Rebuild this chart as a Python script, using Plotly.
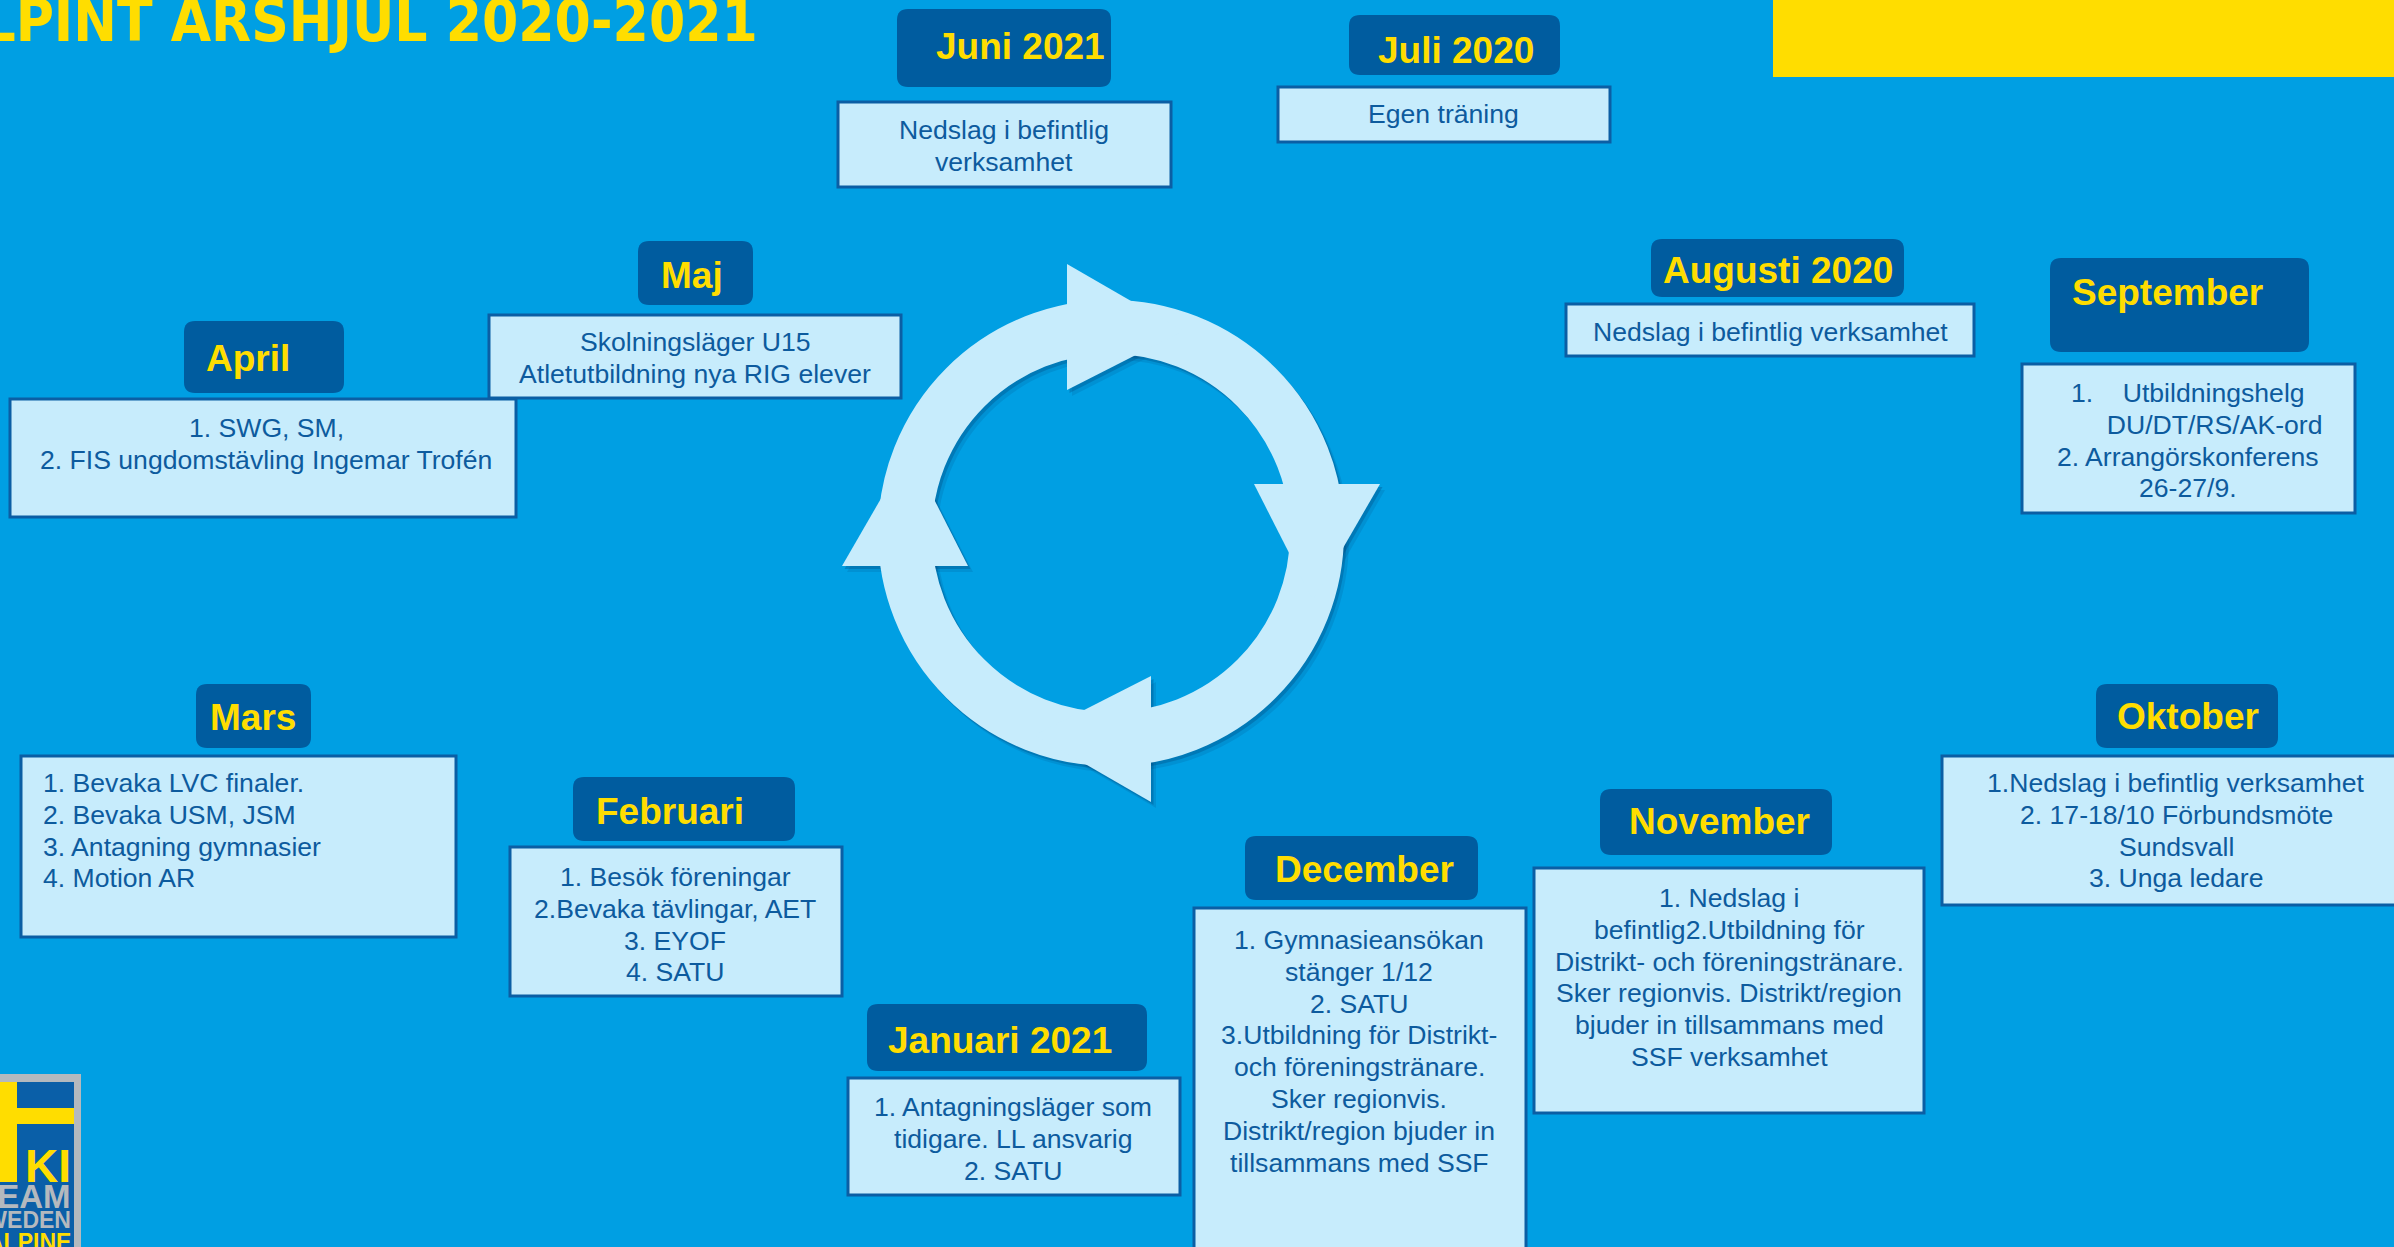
import numpy as np
import plotly.graph_objects as go

W, H = 2394, 1247

# ---------------- data ----------------
title = "ALPINT ÅRSHJUL 2020-2021"
months = ["Juni 2021", "Juli 2020", "Augusti 2020", "September", "Oktober", "November",
          "December", "Januari 2021", "Februari", "Mars", "April", "Maj"]
NB = "\u00a0"
activities = [
    ["Nedslag i befintlig", "verksamhet"],
    ["Egen träning"],
    ["Nedslag i befintlig verksamhet"],
    ["1." + NB * 4 + "Utbildningshelg", NB * 7 + "DU/DT/RS/AK-ord", "2. Arrangörskonferens", "26-27/9."],
    ["1.Nedslag i befintlig verksamhet", "2. 17-18/10 Förbundsmöte", "Sundsvall", "3. Unga ledare"],
    ["1. Nedslag i", "befintlig2.Utbildning för", "Distrikt- och föreningstränare.",
     "Sker regionvis. Distrikt/region", "bjuder in tillsammans med", "SSF verksamhet"],
    ["1. Gymnasieansökan", "stänger 1/12", "2. SATU", "3.Utbildning för Distrikt-",
     "och föreningstränare.", "Sker regionvis.", "Distrikt/region bjuder in", "tillsammans med SSF"],
    ["1. Antagningsläger som", "tidigare. LL ansvarig", "2. SATU"],
    ["1. Besök föreningar", "2.Bevaka tävlingar, AET", "3. EYOF", "4. SATU"],
    ["1. Bevaka LVC finaler.", "2. Bevaka USM, JSM", "3. Antagning gymnasier", "4. Motion AR"],
    ["1. SWG, SM,", "2. FIS ungdomstävling Ingemar Trofén"],
    ["Skolningsläger U15", "Atletutbildning nya RIG elever"],
]
logo_words = ["KI", "TEAM", "SWEDEN", "ALPINE"]

# ---------------- layout (pixel geometry) ----------------
label_boxes = [(897, 9, 1111, 87), (1349, 15, 1560, 75), (1651, 239, 1904, 297),
               (2050, 258, 2309, 352), (2096, 684, 2278, 748), (1600, 789, 1832, 855),
               (1245, 836, 1478, 900), (867, 1004, 1147, 1071), (573, 777, 795, 841),
               (196, 684, 311, 748), (184, 321, 344, 393), (638, 241, 753, 305)]
label_text_xy = [(1020, 46), (1456, 50), (1778, 270), (2167, 292), (2188, 716), (1719, 821),
                 (1364, 869), (1000, 1040), (670, 811), (253, 717), (248, 358), (692, 275)]
content_boxes = [(838, 102, 1171, 187), (1278, 87, 1610, 142), (1566, 304, 1974, 356),
                 (2022, 364, 2355, 513), (1942, 756, 2412, 905), (1534, 868, 1924, 1113),
                 (1194, 908, 1526, 1262), (848, 1078, 1180, 1195), (510, 847, 842, 996),
                 (21, 756, 456, 937), (10, 399, 516, 517), (489, 315, 901, 398)]
content_text_x = [1004, 1443, 1770, 2188, 2176, 1729, 1359, 1013, 675, 41, 266, 695]
content_first_y = [130, 114, 332, 393, 783, 898, 940, 1107, 877, 783, 428, 342]
content_align = ["center"] * 9 + ["left", "center", "center"]
LINE_STEP = 31.8
logo_text_y = [1166, 1196, 1220, 1242]
logo_text_size = [46, 33, 23, 23]

# ---------------- styles ----------------
BG = "#009FE3"
DARK = "#005C9F"
LIGHT = "#C7ECFC"
BORDER = "#0B5EA4"
TXT = "#0D5B9E"
YEL = "#FFDD00"
GRAY = "#B4B9BE"
LOGO_BLUE = "#0A5FA8"
FONT = "Liberation Sans, Arial, sans-serif"
logo_text_color = [YEL, GRAY, GRAY, YEL]


def rrect(x0, y0, x1, y1, r):
    return (f"M{x0+r},{y0} L{x1-r},{y0} Q{x1},{y0} {x1},{y0+r} L{x1},{y1-r} "
            f"Q{x1},{y1} {x1-r},{y1} L{x0+r},{y1} Q{x0},{y1} {x0},{y1-r} "
            f"L{x0},{y0+r} Q{x0},{y0} {x0+r},{y0} Z")


shapes = []
annotations = []

# yellow banner top right
shapes.append(dict(type="rect", xref="x", yref="y", x0=1773, y0=-5, x1=W + 5, y1=77,
                   fillcolor=YEL, line=dict(width=0), layer="above"))

# ---------------- cycle ring with arrows ----------------
cx, cy, rmid, ring_w = 1111, 533, 206, 54
half_w, tip_len = 63, 116
base_back = [44, 49, 40, 33]   # top, right, bottom, left arrowheads


def arrow_path(k, dx=0, dy=0):
    # template for top arrowhead (moving right), rotated k*90deg clockwise on screen
    b = base_back[k]
    pts = [(-b, -rmid - half_w), (-b, -rmid + half_w), (-b + tip_len, -rmid + 4)]
    out = []
    for (px, py) in pts:
        for _ in range(k):
            px, py = -py, px
        out.append((cx + px + dx, cy + py + dy))
    return "M" + " L".join(f"{x:.1f},{y:.1f}" for x, y in out) + " Z"


for (dx, dy, col) in [(5, 6, "rgba(0,50,100,0.12)"), (2.5, 3, "rgba(0,60,110,0.28)")]:
    shapes.append(dict(type="circle", xref="x", yref="y", x0=cx - rmid + dx, x1=cx + rmid + dx,
                       y0=cy - rmid + dy, y1=cy + rmid + dy, line=dict(color=col, width=ring_w),
                       fillcolor="rgba(0,0,0,0)", layer="above"))
    for k in range(4):
        shapes.append(dict(type="path", xref="x", yref="y", path=arrow_path(k, dx, dy),
                           fillcolor=col, line=dict(width=0), layer="above"))

shapes.append(dict(type="circle", xref="x", yref="y", x0=cx - rmid, x1=cx + rmid,
                   y0=cy - rmid, y1=cy + rmid, line=dict(color=LIGHT, width=ring_w),
                   fillcolor="rgba(0,0,0,0)", layer="above"))
for k in range(4):
    shapes.append(dict(type="path", xref="x", yref="y", path=arrow_path(k),
                       fillcolor=LIGHT, line=dict(width=0), layer="above"))

# ---------------- month boxes ----------------
for i, m in enumerate(months):
    x0, y0, x1, y1 = label_boxes[i]
    shapes.append(dict(type="path", xref="x", yref="y", path=rrect(x0, y0, x1, y1, 11),
                       fillcolor=DARK, line=dict(width=0), layer="above"))
    tx, ty = label_text_xy[i]
    annotations.append(dict(x=tx, y=ty, xref="x", yref="y", text=f"<b>{m}</b>", showarrow=False,
                            xanchor="center", yanchor="middle",
                            font=dict(family=FONT, size=37, color=YEL)))
    bx0, by0, bx1, by1 = content_boxes[i]
    shapes.append(dict(type="rect", xref="x", yref="y", x0=bx0, y0=by0, x1=bx1, y1=by1,
                       fillcolor=LIGHT, line=dict(color=BORDER, width=3), layer="above"))
    for j, line in enumerate(activities[i]):
        annotations.append(dict(x=content_text_x[i], y=content_first_y[i] + j * LINE_STEP,
                                xref="x", yref="y", text=line, showarrow=False,
                                xanchor=content_align[i], yanchor="middle", align=content_align[i],
                                font=dict(family=FONT, size=26.6, color=TXT)))

# ---------------- title ----------------
annotations.append(dict(x=760, y=57, xref="x", yref="y", text=f"<b>{title}</b>", showarrow=False,
                        xanchor="right", yanchor="bottom",
                        font=dict(family="Liberation Sans Narrow, DejaVu Sans Condensed, Arial Narrow, sans-serif",
                                  size=58, color=YEL)))

# ---------------- logo bottom-left ----------------
shapes += [
    dict(type="rect", xref="x", yref="y", x0=-10, y0=1074, x1=81, y1=H + 10,
         fillcolor=GRAY, line=dict(width=0), layer="above"),
    dict(type="rect", xref="x", yref="y", x0=-10, y0=1082, x1=74, y1=H + 10,
         fillcolor=LOGO_BLUE, line=dict(width=0), layer="above"),
    dict(type="rect", xref="x", yref="y", x0=-10, y0=1082, x1=17, y1=1182,
         fillcolor=YEL, line=dict(width=0), layer="above"),
    dict(type="rect", xref="x", yref="y", x0=-10, y0=1108, x1=74, y1=1124,
         fillcolor=YEL, line=dict(width=0), layer="above"),
]
for txt, yy, sz, col in zip(logo_words, logo_text_y, logo_text_size, logo_text_color):
    annotations.append(dict(x=73, y=yy, xref="x", yref="y", text=f"<b>{txt}</b>", showarrow=False,
                            xanchor="right", yanchor="middle",
                            font=dict(family=FONT, size=sz, color=col)))

fig = go.Figure()
fig.update_layout(
    width=W, height=H, autosize=False,
    margin=dict(l=0, r=0, t=0, b=0, pad=0),
    paper_bgcolor=BG, plot_bgcolor=BG,
    xaxis=dict(range=[0, W], visible=False, fixedrange=True),
    yaxis=dict(range=[H, 0], visible=False, fixedrange=True),
    shapes=shapes, annotations=annotations, showlegend=False,
)
fig.write_html("out.html", include_plotlyjs=True, config={"displayModeBar": False},
               post_script="document.body.style.margin='0';document.body.style.overflow='hidden';")
